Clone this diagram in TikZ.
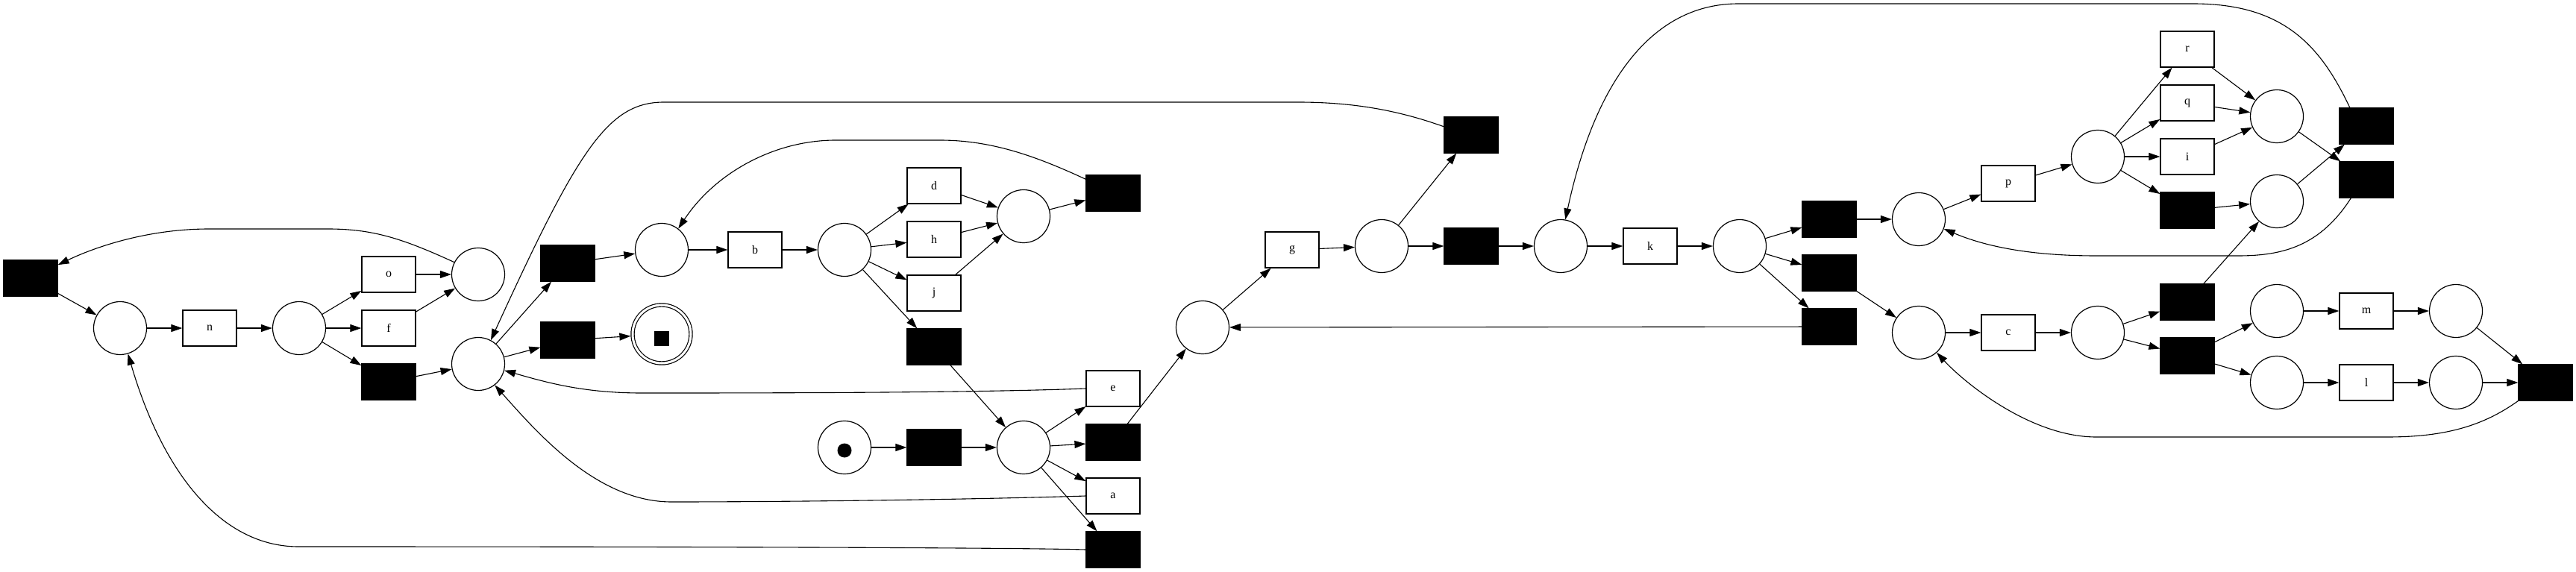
\documentclass[tikz,border=0pt]{standalone}
\usepackage{fontspec}
\setmainfont{Liberation Serif}
\usetikzlibrary{arrows.meta}
\tikzstyle{every node}+=[inner sep=0pt]
\tikzstyle{place}=[circle, draw=black, line width=1.2pt, minimum size=71pt]
\tikzstyle{sinkplace}=[place, minimum size=78pt, double, double distance=3pt, outer sep=2.7pt]
\tikzstyle{trans}=[rectangle, draw=black, line width=1.2pt, minimum width=72pt, minimum height=48pt, font=\fontsize{16}{19}\selectfont]
\tikzstyle{silent}=[trans, fill=black]
\tikzstyle{flow}=[-{Triangle[length=15pt,width=10pt]}, line width=1.1pt]
\begin{document}
\begin{tikzpicture}[x=10pt,y=10pt]
        \useasboundingbox (0,0) rectangle (345.3,-76.7);
        \node [silent] (tau1) at (4.1,-37.3) {};
        \node [place] (p1) at (16.1,-44.0) {};
        \node [trans] (tn) at (28.1,-44.0) {n};
        \node [place] (p2) at (40.1,-44.0) {};
        \node [trans] (to) at (52.1,-36.8) {o};
        \node [trans] (tf) at (52.1,-44.0) {f};
        \node [silent] (tau2) at (52.1,-51.2) {};
        \node [place] (p3) at (64.1,-36.8) {};
        \node [place] (p4) at (64.1,-48.8) {};
        \node [silent] (tau3) at (76.1,-35.3) {};
        \node [silent] (tau4) at (76.1,-45.6) {};
        \node [place] (p5) at (88.7,-33.5) {};
        \node [sinkplace] (sink) at (88.7,-44.8) {};
        \node [trans] (tb) at (101.2,-33.5) {b};
        \node [place] (p6) at (113.2,-33.5) {};
        \node [trans] (td) at (125.2,-24.9) {d};
        \node [trans] (th) at (125.2,-32.1) {h};
        \node [trans] (tj) at (125.2,-39.3) {j};
        \node [silent] (tau5) at (125.2,-46.5) {};
        \node [place] (p7) at (137.2,-29.0) {};
        \node [silent] (tau6) at (149.2,-25.9) {};
        \node [place] (src) at (113.2,-60.0) {};
        \node [silent] (tau7) at (125.2,-60.0) {};
        \node [place] (p8) at (137.2,-60.0) {};
        \node [trans] (te) at (149.2,-52.1) {e};
        \node [silent] (tau8) at (149.2,-59.3) {};
        \node [trans] (ta) at (149.2,-66.5) {a};
        \node [silent] (tau9) at (149.2,-73.7) {};
        \node [place] (p9) at (161.2,-43.9) {};
        \node [trans] (tg) at (173.2,-33.5) {g};
        \node [place] (p10) at (185.2,-33.0) {};
        \node [silent] (tau10) at (197.2,-18.1) {};
        \node [silent] (tau11) at (197.2,-33.0) {};
        \node [place] (p11) at (209.2,-33.0) {};
        \node [trans] (tk) at (221.2,-33.0) {k};
        \node [place] (p12) at (233.2,-33.0) {};
        \node [silent] (tau12) at (245.2,-29.4) {};
        \node [silent] (tau13) at (245.2,-36.6) {};
        \node [silent] (tau14) at (245.2,-43.8) {};
        \node [place] (p13) at (257.2,-29.4) {};
        \node [place] (p14) at (257.2,-44.6) {};
        \node [trans] (tp) at (269.2,-24.6) {p};
        \node [place] (p15) at (281.2,-21.0) {};
        \node [trans] (tr) at (293.2,-6.6) {r};
        \node [trans] (tq) at (293.2,-13.8) {q};
        \node [trans] (ti) at (293.2,-21.0) {i};
        \node [silent] (tau15) at (293.2,-28.2) {};
        \node [place] (p16) at (305.2,-15.6) {};
        \node [place] (p17) at (305.2,-27.0) {};
        \node [silent] (tau16) at (317.2,-16.9) {};
        \node [silent] (tau17) at (317.2,-24.1) {};
        \node [trans] (tc) at (269.2,-44.6) {c};
        \node [place] (p18) at (281.2,-44.6) {};
        \node [silent] (tau18) at (293.2,-40.5) {};
        \node [silent] (tau19) at (293.2,-47.7) {};
        \node [place] (p19) at (305.2,-41.7) {};
        \node [trans] (tm) at (317.2,-41.7) {m};
        \node [place] (p20) at (329.2,-41.7) {};
        \node [place] (p21) at (305.2,-51.3) {};
        \node [trans] (tl) at (317.2,-51.3) {l};
        \node [place] (p22) at (329.2,-51.3) {};
        \node [silent] (tau20) at (341.2,-51.3) {};
        \fill ([yshift=-4pt]src.center) circle (9.5pt);
        \fill ([shift={(-10pt,-16pt)}]sink.center) rectangle ([shift={(10pt,4pt)}]sink.center);
        \draw [flow] (tau1) -- (p1);
        \draw [flow] (p1) -- (tn);
        \draw [flow] (tn) -- (p2);
        \draw [flow] (p2) -- (to);
        \draw [flow] (p2) -- (tf);
        \draw [flow] (p2) -- (tau2);
        \draw [flow] (to) -- (p3);
        \draw [flow] (tf) -- (p3);
        \draw [flow] (tau2) -- (p4);
        \draw [flow] (p4) -- (tau3);
        \draw [flow] (p4) -- (tau4);
        \draw [flow] (tau3) -- (p5);
        \draw [flow] (tau4) -- (sink);
        \draw [flow] (p5) -- (tb);
        \draw [flow] (tb) -- (p6);
        \draw [flow] (p6) -- (td);
        \draw [flow] (p6) -- (th);
        \draw [flow] (p6) -- (tj);
        \draw [flow] (p6) -- (tau5);
        \draw [flow] (td) -- (p7);
        \draw [flow] (th) -- (p7);
        \draw [flow] (tj) -- (p7);
        \draw [flow] (p7) -- (tau6);
        \draw [flow] (tau5) -- (p8);
        \draw [flow] (src) -- (tau7);
        \draw [flow] (tau7) -- (p8);
        \draw [flow] (p8) -- (te);
        \draw [flow] (p8) -- (tau8);
        \draw [flow] (p8) -- (ta);
        \draw [flow] (p8) -- (tau9);
        \draw [flow] (tau8) -- (p9);
        \draw [flow] (p9) -- (tg);
        \draw [flow] (tg) -- (p10);
        \draw [flow] (p10) -- (tau10);
        \draw [flow] (p10) -- (tau11);
        \draw [flow] (tau11) -- (p11);
        \draw [flow] (p11) -- (tk);
        \draw [flow] (tk) -- (p12);
        \draw [flow] (p12) -- (tau12);
        \draw [flow] (p12) -- (tau13);
        \draw [flow] (p12) -- (tau14);
        \draw [flow] (tau12) -- (p13);
        \draw [flow] (tau13) -- (p14);
        \draw [flow] (tau14) -- (p9);
        \draw [flow] (p13) -- (tp);
        \draw [flow] (tp) -- (p15);
        \draw [flow] (p15) -- (tr);
        \draw [flow] (p15) -- (tq);
        \draw [flow] (p15) -- (ti);
        \draw [flow] (p15) -- (tau15);
        \draw [flow] (tr) -- (p16);
        \draw [flow] (tq) -- (p16);
        \draw [flow] (ti) -- (p16);
        \draw [flow] (tau15) -- (p17);
        \draw [flow] (p16) -- (tau17);
        \draw [flow] (p17) -- (tau16);
        \draw [flow] (p14) -- (tc);
        \draw [flow] (tc) -- (p18);
        \draw [flow] (p18) -- (tau18);
        \draw [flow] (p18) -- (tau19);
        \draw [flow] (tau18) -- (p17);
        \draw [flow] (tau19) -- (p19);
        \draw [flow] (tau19) -- (p21);
        \draw [flow] (p19) -- (tm);
        \draw [flow] (tm) -- (p20);
        \draw [flow] (p21) -- (tl);
        \draw [flow] (tl) -- (p22);
        \draw [flow] (p20) -- (tau20);
        \draw [flow] (p22) -- (tau20);
        \draw [flow] (p3.153) .. controls (54.0,-32.0) and (50.0,-30.7) .. (44.0,-30.7) -- (28.0,-30.7) .. controls (20.0,-30.7) and (13.0,-33.0) .. (tau1.26);
        \draw [flow] (tau6.153) .. controls (139.0,-21.0) and (133.0,-18.8) .. (126.0,-18.8) -- (112.0,-18.8) .. controls (104.0,-18.8) and (96.0,-23.0) .. (p5.52);
        \draw [flow] (tau10.163) .. controls (188.0,-15.0) and (182.0,-13.7) .. (174.0,-13.7) -- (89.0,-13.7) .. controls (81.5,-13.7) and (77.5,-20.0) .. (p4.62);
        \draw [flow] (te.west) .. controls (130.0,-52.7) and (100.0,-52.7) .. (86.0,-52.7) .. controls (78.0,-52.7) and (73.0,-51.2) .. (p4.-14);
        \draw [flow] (ta.west) .. controls (130.0,-67.0) and (105.0,-67.3) .. (90.0,-67.3) .. controls (80.0,-67.3) and (72.0,-58.0) .. (p4.-52);
        \draw [flow] (tau9.west) .. controls (130.0,-73.3) and (50.0,-73.3) .. (40.0,-73.3) .. controls (30.0,-73.3) and (22.0,-64.0) .. (p1.-73);
        \draw [flow] (tau16.132) .. controls (311.0,-6.0) and (306.0,-0.5) .. (294.0,-0.5) -- (233.0,-0.5) .. controls (222.0,-0.5) and (214.0,-10.0) .. (p11.80);
        \draw [flow] (tau17.-130) .. controls (311.0,-33.0) and (306.0,-34.3) .. (300.0,-34.3) -- (281.0,-34.3) .. controls (272.0,-34.3) and (266.0,-33.0) .. (p13.-21);
        \draw [flow] (tau20.south west) .. controls (333.0,-57.0) and (328.0,-58.6) .. (320.0,-58.6) -- (281.0,-58.6) .. controls (272.0,-58.6) and (263.0,-51.0) .. (p14.-48);
\end{tikzpicture}
\end{document}
